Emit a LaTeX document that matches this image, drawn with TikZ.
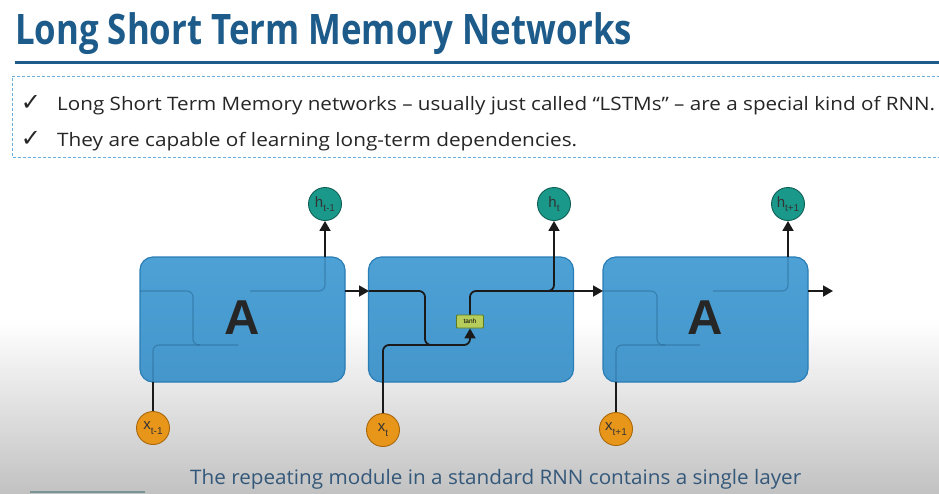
\documentclass[tikz,border=0pt]{standalone}
\usepackage{fontspec}
\usepackage{graphicx}
\setmainfont{Open Sans}
\newfontfamily\labelfont{Liberation Sans}
\newfontfamily\symfont{DejaVu Sans}
\usetikzlibrary{arrows.meta,calc}

\definecolor{titleblue}{HTML}{1D5B8A}
\definecolor{bodytext}{HTML}{262626}
\definecolor{dashblue}{HTML}{6AAEDB}
\definecolor{captioncol}{HTML}{34587A}
\definecolor{bggray}{HTML}{C2C2C2}
\definecolor{cellfill}{HTML}{4DA1D5}
\definecolor{cellfilldark}{HTML}{4496CB}
\definecolor{celledge}{HTML}{2A7DB5}
\definecolor{faintcol}{HTML}{24628E}
\definecolor{wirecol}{HTML}{1A1A1A}
\definecolor{tealfill}{HTML}{1A998B}
\definecolor{tealdark}{HTML}{0F5F57}
\definecolor{orangefill}{HTML}{E8961A}
\definecolor{orangedark}{HTML}{A86608}
\definecolor{tanhfill}{HTML}{B6CD5C}
\definecolor{tanhedge}{HTML}{5E7A1E}
\definecolor{barteal}{HTML}{7A9494}

% symbol with a lowered index, as printed in the circles
\newcommand{\circlabel}[2]{#1\raisebox{-4.5pt}{\fontsize{10}{10}\selectfont #2}}

\tikzset{
  cell/.style={rectangle, rounded corners=13pt, top color=cellfill, bottom color=cellfilldark,
    draw=celledge, line width=1.2pt, minimum width=205pt, minimum height=125pt, inner sep=0pt, outer sep=0pt},
  hcirc/.style={circle, fill=tealfill, draw=tealdark, line width=0.9pt, minimum size=33pt, inner sep=0pt,
    font=\labelfont\fontsize{15}{15}\selectfont, text=black!80},
  xcirc/.style={circle, fill=orangefill, draw=orangedark, line width=0.9pt, minimum size=33pt, inner sep=0pt,
    font=\labelfont\fontsize{15}{15}\selectfont, text=black!80},
  wire/.style={draw=wirecol, line width=1.8pt, rounded corners=6pt},
  arr/.style={-{Triangle[length=10pt,width=11pt]}},
  faint/.style={draw=faintcol, line width=1.1pt, opacity=0.5, rounded corners=6pt},
  bigletter/.style={font=\labelfont\bfseries\fontsize{49}{49}\selectfont, text=black!85, inner sep=0pt},
  tanhbox/.style={rectangle, fill=tanhfill, draw=tanhedge, line width=0.8pt, minimum width=27pt,
    minimum height=13pt, inner sep=0pt, rounded corners=1pt, font=\labelfont\fontsize{6.5}{6.5}\selectfont},
  checkmark/.style={font=\symfont\fontsize{24}{24}\selectfont, text=bodytext, inner sep=0pt},
  bodyline/.style={anchor=base west, inner sep=0pt, text=bodytext}
}

\begin{document}
\begin{tikzpicture}[x=1pt,y=-1pt]
\useasboundingbox (0,0) rectangle (939,493);
\clip (0,0) rectangle (939,493);

% page background: white fading to grey at the foot
\fill[white] (0,0) rectangle (939,493);
\shade[top color=white, bottom color=bggray] (0,320) rectangle (939,493);
\fill[barteal] (30,491) rectangle (145,493);

% heading and rule
\node[anchor=base west, inner sep=0pt, text=titleblue] (title) at (15,44)
  {\resizebox{617pt}{\height}{\fontsize{42}{44}\selectfont\bfseries Long Short Term Memory Networks}};
\draw[titleblue, line width=3pt] (15,62) -- (945,62);

% dashed bullet panel
\draw[dashblue, line width=0.8pt, dash pattern=on 3pt off 2pt] (945,76) -- (12,76) -- (12,157) -- (945,157);
\node[checkmark] (c1) at (31,103) {✓};
\node[checkmark] (c2) at (31,139) {✓};
\node[bodyline] (b1) at (57,110)
  {\resizebox{878pt}{\height}{\fontsize{18.5}{20}\selectfont Long Short Term Memory networks – usually just called “LSTMs” – are a special kind of RNN.}};
\node[bodyline] (b2) at (57,146)
  {\resizebox{520pt}{\height}{\fontsize{18.5}{20}\selectfont They are capable of learning long-term dependencies.}};

% three repeating cells
\node[cell] (A1) at (242.5,319.5) {};
\node[cell] (A2) at (471,319.5) {};
\node[cell] (A3) at (705.5,319.5) {};

% wiring seen through the outer cells
\draw[faint] (140,291) -- (193,291) -- (193,345) -- (238,345);
\draw[faint] (153,382) -- (153,345) -- (200,345);
\draw[faint] (250,291) -- (325,291) -- (325,257);
\draw[faint] (603,291) -- (657,291) -- (657,345) -- (700,345);
\draw[faint] (616,382) -- (616,345) -- (665,345);
\draw[faint] (713,291) -- (788,291) -- (788,257);

\node[bigletter] (LA1) at (242,318) {A};
\node[bigletter] (LA3) at (705,318) {A};

% inputs and outputs
\node[hcirc] (h1) at (325,204) {\circlabel{h}{t-1}};
\node[hcirc] (h2) at (554,204) {\circlabel{h}{t}};
\node[hcirc] (h3) at (788,204) {\circlabel{h}{t+1}};
\node[xcirc] (x1) at (153,428) {\circlabel{x}{t-1}};
\node[xcirc] (x2) at (383,430) {\circlabel{x}{t}};
\node[xcirc] (x3) at (616,429) {\circlabel{x}{t+1}};

\node[tanhbox] (T) at (470,321.5) {tanh};

% connection points on the cell borders
\coordinate (o1) at (345,291);
\coordinate (i2) at (369,291);
\coordinate (i3) at (603,291);
\coordinate (o3) at (808,291);
\coordinate (end3) at (833,291);
\coordinate (top1) at (325,257);
\coordinate (top3) at (788,257);
\coordinate (bot1) at (153,382);
\coordinate (bot3) at (616,382);

% outer cells
\draw[wire] (x1) -- (bot1);
\draw[wire,arr] (top1) -- (h1);
\draw[wire,arr] (o1) -- (i2);
\draw[wire] (x3) -- (bot3);
\draw[wire,arr] (top3) -- (h3);
\draw[wire,arr] (o3) -- (end3);

% middle cell
\draw[wire] (i2) -- (425,291) -- (425,345) -- (445,345);
\draw[wire,arr] (x2) -- (383,345) -- (470,345) -- (T);
\draw[wire,arr] (T) -- (470,291) -- (i3);
\draw[wire,arr] (530,291) -- (554,291) -- (h2);

% caption
\node[anchor=base west, inner sep=0pt, text=captioncol] (cap) at (190,484)
  {\resizebox{611pt}{\height}{\fontsize{20}{22}\selectfont The repeating module in a standard RNN contains a single layer}};
\end{tikzpicture}
\end{document}
